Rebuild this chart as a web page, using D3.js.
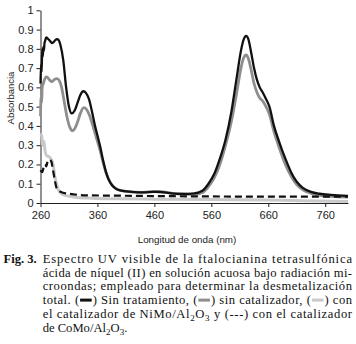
<!DOCTYPE html>
<html>
<head>
<meta charset="utf-8">
<script src="https://cdn.jsdelivr.net/npm/d3@7"></script>
<style>
  body { margin: 0; background: #fff; }
  svg { display: block; }
  .tick text { font-family: "Liberation Sans", Arial, sans-serif; font-size: 11px; fill: #222; }
  .axis path, .axis line { stroke: #222; }
  .cap { font-family: "Liberation Serif", "Times New Roman", serif; font-size: 12.6px; fill: #111; }
</style>
</head>
<body>
<svg id="chart" width="356" height="344"></svg>
<script>
// UV-vis spectrum -- Fig. 3

// Sin tratamiento (black)
var nmBlack = [260, 261, 262, 263, 264, 265, 266, 267, 268, 270, 272, 274, 277, 280, 283, 286, 289, 292, 295,
  300, 305, 310, 315, 320, 325, 330, 335, 340, 345, 350, 355, 360, 365, 370, 375, 380, 385, 390, 400,
  420, 440, 460, 470, 490, 510, 530, 545, 555, 565, 575, 585, 595, 605, 612, 617, 621, 625, 630, 635,
  640, 645, 650, 656, 662, 670, 680, 690, 700, 710, 720, 735, 750, 770, 800];
var absBlack = [0.62, 0.72, 0.68, 0.80, 0.76, 0.81, 0.79, 0.83, 0.84, 0.86, 0.855, 0.85, 0.84, 0.83, 0.835, 0.845, 0.85, 0.845, 0.82,
  0.74, 0.60, 0.50, 0.465, 0.48, 0.52, 0.56, 0.58, 0.57, 0.54, 0.48, 0.41, 0.35, 0.29, 0.22, 0.16, 0.12, 0.095, 0.08, 0.065,
  0.058, 0.055, 0.058, 0.057, 0.05, 0.047, 0.05, 0.065, 0.10, 0.15, 0.23, 0.33, 0.47, 0.66, 0.79, 0.85, 0.867, 0.85, 0.78, 0.70,
  0.64, 0.60, 0.575, 0.54, 0.50, 0.40, 0.31, 0.23, 0.16, 0.11, 0.08, 0.058, 0.048, 0.042, 0.037];

// sin catalizador (gray)
var nmGray = [260, 261, 262, 263, 265, 267, 270, 273, 277, 280, 284, 289, 293, 297, 302, 307, 312, 316, 320,
  325, 330, 336, 341, 346, 352, 358, 364, 370, 376, 382, 388, 395, 410, 440, 460, 475, 500, 530, 545,
  555, 565, 575, 585, 595, 605, 612, 617, 621, 625, 630, 635, 640, 645, 650, 656, 662, 670, 680, 690,
  700, 710, 720, 735, 750, 770, 800];
var absGray = [0.45, 0.55, 0.52, 0.60, 0.62, 0.64, 0.655, 0.65, 0.635, 0.63, 0.64, 0.645, 0.635, 0.60, 0.52, 0.44, 0.39, 0.375, 0.385,
  0.42, 0.465, 0.495, 0.485, 0.455, 0.40, 0.34, 0.28, 0.21, 0.15, 0.11, 0.085, 0.07, 0.06, 0.055, 0.06, 0.058, 0.048, 0.045, 0.055,
  0.085, 0.13, 0.20, 0.30, 0.42, 0.58, 0.70, 0.755, 0.768, 0.75, 0.69, 0.62, 0.575, 0.545, 0.53, 0.50, 0.46, 0.37, 0.28, 0.20,
  0.14, 0.095, 0.07, 0.05, 0.04, 0.034, 0.03];

// con NiMo/Al2O3 (light gray)
var nmLight = [260, 262, 264, 266, 268, 271, 275, 279, 282, 285, 288, 291, 296, 305, 320, 350, 400, 460, 560, 660, 720, 800];
var absLight = [0.36, 0.35, 0.30, 0.32, 0.27, 0.245, 0.24, 0.225, 0.20, 0.14, 0.10, 0.07, 0.05, 0.038, 0.03, 0.025, 0.022, 0.02, 0.018, 0.015, 0.012, 0.008];

// con CoMo/Al2O3 (dashed)
var nmDash = [260, 263, 266, 268, 270, 273, 276, 279, 282, 285, 288, 292, 298, 310, 340, 400, 460, 560, 660, 800];
var absDash = [0.17, 0.16, 0.19, 0.20, 0.19, 0.22, 0.225, 0.215, 0.17, 0.12, 0.08, 0.065, 0.055, 0.048, 0.04, 0.038, 0.036, 0.034, 0.033, 0.033];

var xTicks = [260, 360, 460, 560, 660, 760];
var yTicks = [0, 0.1, 0.2, 0.3, 0.4, 0.5, 0.6, 0.7, 0.8, 0.9, 1];

var series = [
  { nm: nmLight, abs: absLight, color: "#c9c9c9", width: 3, dash: null },
  { nm: nmGray, abs: absGray, color: "#8e8e8e", width: 2.8, dash: null },
  { nm: nmBlack, abs: absBlack, color: "#111", width: 2.3, dash: null },
  { nm: nmDash, abs: absDash, color: "#111", width: 2.2, dash: "7,4" }
];

var svg = d3.select("#chart");
var x = d3.scaleLinear().domain([260, 800]).range([40.5, 348]);
var y = d3.scaleLinear().domain([0, 1]).range([203, 10.3]);

///////////////////////////////////////////////////////////////////////////////
// Axes

svg.append("g").attr("class", "axis")
  .attr("transform", "translate(0," + y(0) + ")")
  .call(d3.axisBottom(x).tickValues(xTicks).tickSize(4).tickSizeOuter(0).tickPadding(4).tickFormat(d3.format("d")));

svg.append("g").attr("class", "axis")
  .attr("transform", "translate(" + x(260) + ",0)")
  .call(d3.axisLeft(y).tickValues(yTicks).tickSize(4).tickSizeOuter(0).tickPadding(3)
    .tickFormat(function (d) { return d === 0 || d === 1 ? String(d) : d3.format(".1f")(d); }));

svg.append("text")
  .attr("transform", "translate(10,98) rotate(-90)")
  .attr("text-anchor", "middle")
  .attr("dominant-baseline", "central")
  .style("font-family", "Liberation Sans, Arial, sans-serif")
  .style("font-size", "9.5px").style("fill", "#222")
  .text("Absorbancia");

svg.append("text")
  .attr("x", 187).attr("y", 242.5)
  .attr("text-anchor", "middle")
  .style("font-family", "Liberation Sans, Arial, sans-serif")
  .style("font-size", "9.8px").style("fill", "#222")
  .text("Longitud de onda (nm)");

///////////////////////////////////////////////////////////////////////////////
// Spectra

var line = d3.line()
  .x(function (d) { return x(d[0]); })
  .y(function (d) { return y(d[1]); })
  .curve(d3.curveMonotoneX);

series.forEach(function (s) {
  var pts = d3.zip(s.nm, s.abs);
  svg.append("path")
    .attr("d", line(pts))
    .attr("fill", "none")
    .attr("stroke", s.color)
    .attr("stroke-width", s.width)
    .attr("stroke-linejoin", "round")
    .attr("stroke-dasharray", s.dash);
});

///////////////////////////////////////////////////////////////////////////////
// Caption

var capLeft = 42.7, capRight = 352;

svg.append("text").attr("class", "cap")
  .attr("x", 3.5).attr("y", 262.7)
  .style("font-weight", "bold")
  .text("Fig. 3.");

// each line is a list of [text, kind]; kind: null, "sub", or a mark colour
var capLines = [
  [["Espectro UV visible de la ftalocianina tetrasulfónica"]],
  [["ácida de níquel (II) en solución acuosa bajo radiación mi-"]],
  [["croondas; empleado para determinar la desmetalización"]],
  [["total. ("], ["\u2003", "#111"], [") Sin tratamiento, ("], ["\u2003", "#8e8e8e"], [") sin catalizador, ("], ["\u2003", "#c9c9c9"], [") con"]],
  [["el catalizador de NiMo/Al"], ["2", "sub"], ["O"], ["3", "sub"], [" y (---) con el catalizador"]],
  [["de CoMo/Al"], ["2", "sub"], ["O"], ["3", "sub"], ["."]]
];

capLines.forEach(function (parts, i) {
  var t = svg.append("text").attr("class", "cap")
    .attr("x", capLeft).attr("y", 262.7 + i * 13.8);
  var marks = [], idx = 0;
  parts.forEach(function (p) {
    var ts = t.append("tspan").text(p[0]);
    if (p[1] === "sub") ts.attr("baseline-shift", "-3").style("font-size", "9px");
    else if (p[1]) marks.push({ start: idx, len: p[0].length, color: p[1] });
    idx += p[0].length;
  });
  if (i < capLines.length - 1)
    t.attr("textLength", capRight - capLeft).attr("lengthAdjust", "spacing");

  var node = t.node();
  marks.forEach(function (m) {
    var a = node.getStartPositionOfChar(m.start).x;
    var b = node.getEndPositionOfChar(m.start + m.len - 1).x;
    svg.append("rect")
      .attr("x", a + 0.5).attr("y", 262.7 + i * 13.8 - 5.5)
      .attr("width", Math.max(b - a - 1, 6)).attr("height", 3)
      .attr("fill", m.color);
  });
});
</script>
</body>
</html>
